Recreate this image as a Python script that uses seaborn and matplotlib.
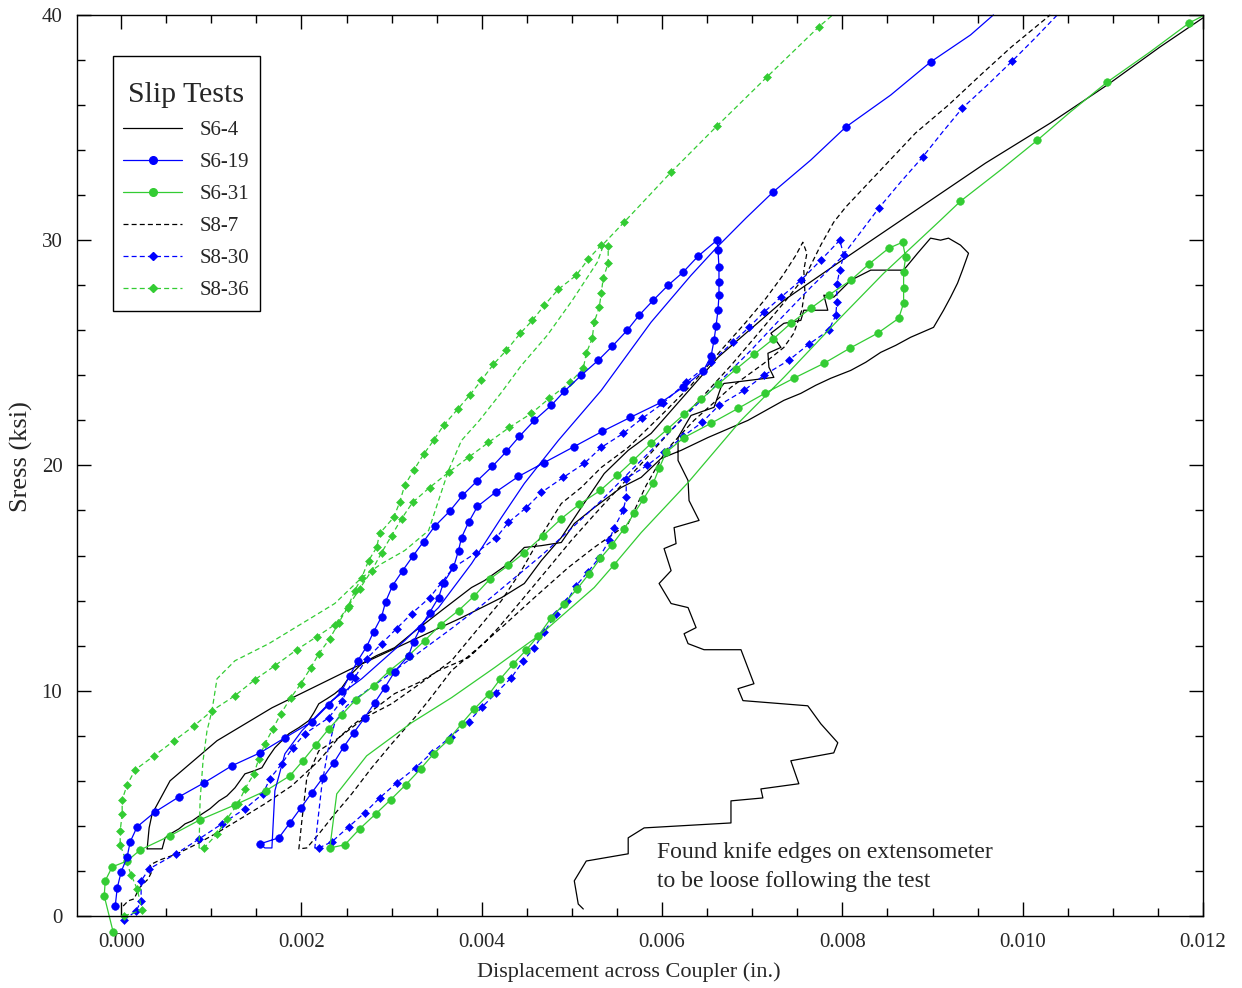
import numpy as np
import matplotlib
matplotlib.use("Agg")
import matplotlib.pyplot as plt
from matplotlib.lines import Line2D
from matplotlib.ticker import MultipleLocator, FormatStrFormatter
import seaborn as sns

# Slip tests: stress (ksi) vs displacement across coupler.
# Displacements below are in thousandths of an inch.

# S6-4: first loading, then the drift after the knife edges came loose
s6_4_first_x = [0.288, 0.454, 0.487, 0.565, 0.642, 0.709, 0.786, 0.897, 0.985, 1.085,
                1.173, 1.262, 1.317, 1.373, 1.472, 1.561, 1.627, 1.705, 1.782, 1.860,
                1.971, 2.081, 2.137, 2.192, 2.281, 2.369, 2.447, 2.557, 2.668, 2.834,
                3.033, 3.221, 3.410, 3.554, 3.697, 3.886, 4.030, 4.140, 4.295, 4.384,
                4.472, 4.661, 4.882, 5.026, 5.247, 5.546, 5.768, 5.989, 6.211, 6.509,
                6.952, 7.351, 7.539, 7.705, 7.871, 8.093, 8.259, 8.425, 8.591, 8.757,
                9.011, 9.122, 9.200, 9.277, 9.332, 9.399, 9.310, 9.177, 9.089, 8.978,
                8.834, 8.679, 8.314, 8.093, 7.982, 7.904, 7.794, 7.838, 7.572, 7.539,
                7.351, 7.207, 7.318, 7.174, 7.185, 7.240, 6.686, 6.653, 6.576, 6.321,
                6.288, 6.177, 6.177, 6.288, 6.299, 6.410, 6.133, 6.155, 6.022, 6.100,
                5.967, 6.100, 6.288, 6.377, 6.244, 6.288, 6.465, 6.875, 7.019, 6.842,
                6.897, 7.616, 7.761, 7.949, 7.904, 7.428, 7.517, 7.096, 7.118, 6.764,
                6.764, 5.801, 5.624, 5.624, 5.159, 5.026, 5.070, 5.126]
s6_4_first_y = [2.98, 2.98, 3.47, 3.69, 3.87, 4.09, 4.22, 4.53, 4.76, 5.11,
                5.33, 5.69, 6.0, 6.31, 6.44, 6.58, 7.02, 7.47, 7.78, 8.09,
                8.36, 8.67, 9.02, 9.42, 9.64, 9.87, 10.13, 10.76, 11.2, 11.56,
                11.91, 12.53, 13.11, 13.56, 14.0, 14.58, 14.89, 15.2, 15.64, 16.0,
                16.36, 16.44, 16.58, 17.42, 18.13, 19.02, 19.47, 20.31, 20.67, 21.24,
                22.0, 22.89, 23.2, 23.56, 23.87, 24.22, 24.58, 25.02, 25.33, 25.69,
                26.13, 26.89, 27.47, 28.09, 28.67, 29.42, 29.78, 30.09, 30.0, 30.09,
                29.42, 28.67, 28.67, 28.22, 27.78, 27.47, 27.56, 26.89, 26.89, 26.44,
                26.31, 25.87, 25.24, 24.98, 24.36, 23.91, 23.64, 23.47, 22.58, 22.22,
                22.0, 21.24, 20.22, 19.33, 18.44, 17.56, 17.24, 16.53, 16.31, 15.33,
                14.76, 13.87, 13.69, 12.8, 12.53, 12.09, 11.82, 11.82, 10.31, 10.09,
                9.56, 9.33, 8.53, 7.69, 7.24, 6.89, 5.87, 5.64, 5.24, 5.11,
                4.13, 3.91, 3.47, 2.76, 2.44, 1.56, 0.53, 0.31]
s6_4_reload_x = [0.288, 0.310, 0.343, 0.542, 1.063, 1.672, 2.557, 3.221, 3.775, 4.218,
                 4.472, 4.661, 4.882, 5.103, 5.358, 5.624, 5.878, 6.620, 7.351, 7.949,
                 8.768, 9.587, 10.307, 10.938, 11.524, 12.0]
s6_4_reload_y = [2.98, 3.91, 4.53, 6.0, 7.78, 9.24, 10.98, 12.22, 13.24, 14.13,
                 14.76, 15.78, 16.8, 18.13, 19.64, 20.67, 21.42, 24.8, 27.33, 28.98,
                 31.2, 33.42, 35.2, 36.89, 38.58, 39.87]

# S6-19
s6_19_load_x = [-0.066, -0.044, 0.000, 0.066, 0.100, 0.177, 0.376, 0.642, 0.919, 1.229,
                1.539, 1.816, 2.114, 2.303, 2.447, 2.535, 2.624, 2.723, 2.801, 2.889,
                2.934, 3.011, 3.122, 3.233, 3.354, 3.476, 3.642, 3.786, 3.952, 4.118,
                4.273, 4.417, 4.583, 4.771, 4.915, 5.103, 5.292, 5.447, 5.613, 5.746,
                5.901, 6.067, 6.233, 6.399, 6.609]
s6_19_load_y = [0.44, 1.24, 1.96, 2.62, 3.29, 3.96, 4.62, 5.29, 5.91, 6.67,
                7.24, 7.91, 8.62, 9.38, 10.0, 10.67, 11.33, 11.96, 12.62, 13.29,
                13.96, 14.67, 15.33, 15.96, 16.62, 17.29, 17.96, 18.67, 19.33, 19.96,
                20.62, 21.29, 22.0, 22.67, 23.29, 24.0, 24.67, 25.29, 26.0, 26.67,
                27.33, 28.0, 28.58, 29.29, 30.0]
s6_19_unload_x = [6.620, 6.631, 6.631, 6.631, 6.620, 6.598, 6.576, 6.543, 6.454, 6.233,
                  5.989, 5.646, 5.336, 5.026, 4.694, 4.406, 4.162, 3.952, 3.853, 3.775,
                  3.742, 3.686, 3.576, 3.520, 3.421, 3.321, 3.244, 3.188, 3.033, 2.923,
                  2.812, 2.701, 2.579, 2.469, 2.358, 2.236, 2.114, 1.993, 1.871, 1.749,
                  1.539]
s6_19_unload_y = [29.56, 28.8, 28.13, 27.56, 26.89, 26.18, 25.56, 24.84, 24.18, 23.47,
                  22.8, 22.13, 21.51, 20.84, 20.13, 19.51, 18.84, 18.18, 17.47, 16.8,
                  16.22, 15.47, 14.8, 14.13, 13.47, 12.8, 12.18, 11.56, 10.84, 10.13,
                  9.47, 8.8, 8.13, 7.51, 6.8, 6.13, 5.47, 4.8, 4.13, 3.47,
                  3.2]
s6_19_reload_x = [1.594, 1.672, 1.705, 1.816, 2.004, 2.336, 2.668, 3.144, 3.520, 3.886,
                  4.218, 4.472, 4.849, 5.325, 5.878, 6.321, 6.609, 6.930, 7.229, 7.650,
                  8.037, 8.535, 8.978, 9.421, 9.675]
s6_19_reload_y = [3.02, 3.02, 5.56, 7.2, 8.22, 9.56, 10.53, 12.22, 13.69, 15.64,
                  17.69, 19.2, 21.11, 23.33, 26.36, 28.44, 29.69, 30.98, 32.13, 33.56,
                  35.02, 36.44, 37.91, 39.11, 40.0]
s6_19_reload_marks = [18, 20, 22]

# S6-31
s6_31_load_x = [-0.089, -0.188, -0.177, -0.100, 0.066, 0.210, 0.542, 0.875, 1.262, 1.605,
                1.871, 2.015, 2.159, 2.303, 2.447, 2.602, 2.801, 2.978, 3.188, 3.365,
                3.543, 3.742, 3.919, 4.096, 4.295, 4.472, 4.683, 4.882, 5.081, 5.314,
                5.502, 5.679, 5.878, 6.056, 6.244, 6.432, 6.620, 6.819, 7.019, 7.229,
                7.428, 7.650, 7.849, 8.093, 8.292, 8.513, 8.668]
s6_31_load_y = [-0.71, 0.89, 1.56, 2.18, 2.44, 2.93, 3.56, 4.27, 4.93, 5.56,
                6.22, 6.89, 7.6, 8.31, 8.93, 9.6, 10.22, 10.89, 11.56, 12.22,
                12.93, 13.56, 14.22, 14.98, 15.56, 16.13, 16.89, 17.64, 18.27, 18.89,
                19.56, 20.22, 20.98, 21.6, 22.27, 22.93, 23.6, 24.27, 24.93, 25.6,
                26.31, 26.98, 27.56, 28.22, 28.93, 29.64, 29.91]
s6_31_unload_x = [8.701, 8.679, 8.679, 8.679, 8.624, 8.391, 8.081, 7.794, 7.461, 7.140,
                  6.842, 6.543, 6.244, 6.044, 5.967, 5.901, 5.790, 5.690, 5.580, 5.447,
                  5.314, 5.192, 5.059, 4.915, 4.771, 4.627, 4.495, 4.351, 4.207, 4.085,
                  3.919, 3.775, 3.631, 3.465, 3.321, 3.155, 2.989, 2.823, 2.646, 2.480,
                  2.314]
s6_31_unload_y = [29.24, 28.58, 27.87, 27.2, 26.53, 25.87, 25.2, 24.53, 23.87, 23.2,
                  22.53, 21.87, 21.24, 20.58, 19.87, 19.2, 18.49, 17.87, 17.2, 16.49,
                  15.87, 15.2, 14.53, 13.87, 13.24, 12.44, 11.82, 11.2, 10.53, 9.87,
                  9.2, 8.53, 7.82, 7.2, 6.53, 5.82, 5.16, 4.53, 3.87, 3.16,
                  3.02]
s6_31_reload_x = [2.391, 2.723, 3.222, 3.664, 4.140, 4.661, 5.247, 5.469, 5.768, 6.288,
                  6.875, 7.351, 7.949, 8.458, 9.089, 9.310, 9.753, 10.163, 10.528, 10.938,
                  11.414, 11.845, 12.0]
s6_31_reload_y = [5.42, 7.11, 8.58, 9.69, 11.02, 12.53, 14.58, 15.6, 17.02, 19.24,
                  22.0, 23.91, 26.44, 28.53, 30.89, 31.73, 33.11, 34.44, 35.69, 37.02,
                  38.36, 39.64, 39.96]
s6_31_reload_marks = [7, 15, 17, 19, 21]

# S8-7
s8_7_load_x = [0.022, 0.077, 0.144, 0.199, 0.299, 0.343, 0.321, 0.432, 0.620, 0.841,
               1.063, 1.284, 1.594, 1.893, 2.192, 2.413, 2.701, 3.0, 3.332, 3.664,
               3.941, 4.218, 4.439, 4.661, 4.882, 5.103, 5.325, 5.624, 5.989, 6.321,
               6.653, 6.930, 7.152, 7.340, 7.484, 7.561]
s8_7_load_y = [0.44, 0.67, 0.76, 1.24, 1.64, 2.0, 2.27, 2.49, 2.76, 3.2,
               3.69, 4.22, 4.98, 5.78, 6.89, 7.91, 8.8, 9.42, 10.36, 11.33,
               12.67, 14.0, 15.33, 16.89, 18.31, 19.02, 19.91, 20.8, 22.22, 23.56,
               25.11, 26.36, 27.42, 28.44, 29.33, 29.91]
s8_7_unload_x = [7.606, 7.572, 7.583, 7.550, 7.461, 7.351, 7.129, 6.764, 6.354, 6.044,
                 5.823, 5.624, 5.247, 4.960, 4.583, 4.218, 3.963, 3.664, 3.410, 3.255,
                 3.0, 2.779, 2.557, 2.369, 2.192, 2.059, 1.971]
s8_7_unload_y = [29.42, 28.67, 27.78, 26.89, 25.87, 25.24, 24.53, 23.47, 22.0, 20.67,
                 19.11, 17.42, 16.36, 15.47, 14.13, 12.8, 11.91, 10.89, 9.56, 8.8,
                 7.64, 6.58, 5.42, 4.53, 3.64, 3.02, 2.98]
s8_7_reload_x = [2.004, 2.059, 2.192, 2.413, 2.557, 2.812, 3.033, 3.299, 3.520, 3.853,
                 4.030, 4.185, 4.439, 4.716, 4.993, 5.270, 5.546, 5.823, 6.100, 6.432,
                 6.764, 7.096, 7.373, 7.594, 7.760, 7.904, 8.037, 8.402, 8.812, 9.177,
                 9.532, 9.875, 10.306]
s8_7_reload_y = [4.22, 6.13, 7.33, 7.91, 8.44, 9.2, 9.87, 10.36, 10.89, 11.47,
                 12.13, 12.8, 14.0, 15.33, 16.67, 17.91, 19.11, 20.31, 21.56, 22.98,
                 24.44, 26.0, 27.33, 28.44, 29.78, 30.8, 31.47, 33.02, 34.76, 36.0,
                 37.33, 38.58, 40.0]

# S8-30
s8_30_load_x = [0.033, 0.166, 0.221, 0.221, 0.310, 0.609, 0.864, 1.118, 1.373, 1.572,
                1.649, 1.782, 1.904, 2.037, 2.303, 2.447, 2.590, 2.723, 2.889, 3.055,
                3.221, 3.421, 3.554, 3.686, 3.941, 4.162, 4.295, 4.495, 4.661, 4.904,
                5.137, 5.325, 5.568, 5.779, 6.011, 6.266, 6.543, 6.786, 6.963, 7.129,
                7.318, 7.539, 7.760, 7.971]
s8_30_load_y = [-0.18, 0.22, 0.67, 1.56, 2.09, 2.76, 3.42, 4.09, 4.76, 5.42,
                6.09, 6.76, 7.47, 8.09, 8.8, 9.56, 10.58, 11.42, 12.09, 12.76,
                13.42, 14.13, 14.8, 15.47, 16.13, 16.8, 17.47, 18.13, 18.8, 19.47,
                20.09, 20.8, 21.42, 22.09, 22.76, 23.69, 24.58, 25.47, 26.13, 26.8,
                27.47, 28.22, 29.11, 30.0]
s8_30_unload_x = [8.015, 7.971, 7.938, 7.938, 7.927, 7.849, 7.627, 7.406, 7.129, 6.908,
                  6.631, 6.443, 6.233, 6.022, 5.834, 5.602, 5.602, 5.568, 5.469, 5.413,
                  5.303, 5.181, 5.048, 4.948, 4.827, 4.694, 4.583, 4.461, 4.328, 4.162,
                  4.007, 3.853, 3.653, 3.443, 3.266, 3.055, 2.867, 2.701, 2.524, 2.336,
                  2.192]
s8_30_unload_y = [29.33, 28.67, 28.04, 27.24, 26.67, 26.0, 25.38, 24.67, 24.0, 23.33,
                  22.67, 21.91, 21.29, 20.58, 20.0, 19.42, 18.58, 18.0, 17.24, 16.67,
                  15.91, 15.29, 14.67, 14.0, 13.42, 12.62, 11.91, 11.33, 10.58, 9.91,
                  9.29, 8.62, 7.96, 7.24, 6.58, 5.91, 5.24, 4.58, 3.96, 3.29,
                  3.02]
s8_30_reload_x = [2.148, 2.181, 2.225, 2.292, 2.369, 2.502, 2.723, 3.0, 3.332, 3.664,
                  3.996, 4.328, 4.661, 4.993, 5.325, 5.657, 5.989, 6.321, 6.653, 6.985,
                  7.318, 7.650, 7.982, 8.203, 8.403, 8.646, 8.890, 9.111, 9.332, 9.609,
                  9.886, 10.140, 10.384]
s8_30_reload_y = [3.02, 4.22, 5.78, 7.33, 8.58, 9.33, 10.0, 10.8, 11.78, 12.76,
                  13.78, 14.89, 16.0, 17.2, 18.44, 19.78, 21.11, 22.44, 23.78, 25.11,
                  26.53, 27.91, 29.2, 30.36, 31.42, 32.58, 33.69, 34.8, 35.87, 36.89,
                  37.96, 38.98, 40.0]
s8_30_reload_marks = [24, 26, 28, 30]

# S8-36
s8_36_load_x = [0.033, 0.232, 0.177, 0.111, -0.011, -0.011, 0.011, 0.011, 0.066, 0.155,
                0.365, 0.587, 0.808, 1.007, 1.262, 1.483, 1.705, 1.948, 2.170, 2.369,
                2.513, 2.590, 2.668, 2.745, 2.834, 2.867, 3.022, 3.089, 3.144, 3.244,
                3.354, 3.465, 3.576, 3.731, 3.864, 3.996, 4.129, 4.273, 4.428, 4.561,
                4.694, 4.849, 5.048, 5.181, 5.325]
s8_36_load_y = [0.0, 0.27, 1.2, 1.82, 3.16, 3.78, 4.53, 5.16, 5.82, 6.49,
                7.11, 7.78, 8.44, 9.11, 9.78, 10.49, 11.11, 11.82, 12.4, 12.93,
                13.69, 14.44, 15.02, 15.78, 16.36, 16.98, 17.69, 18.36, 19.11, 19.78,
                20.49, 21.11, 21.78, 22.49, 23.11, 23.78, 24.49, 25.11, 25.87, 26.44,
                27.11, 27.82, 28.44, 29.16, 29.78]
s8_36_unload_x = [5.402, 5.402, 5.347, 5.325, 5.303, 5.247, 5.225, 5.159, 5.126, 4.982,
                  4.749, 4.550, 4.306, 4.074, 3.853, 3.631, 3.421, 3.233, 3.111, 3.000,
                  2.889, 2.779, 2.646, 2.524, 2.413, 2.314, 2.192, 2.103, 1.993, 1.882,
                  1.771, 1.683, 1.594, 1.527, 1.472, 1.373, 1.295, 1.173, 1.063, 0.919]
s8_36_unload_y = [29.73, 28.98, 28.31, 27.64, 27.02, 26.36, 25.64, 24.98, 24.31, 23.69,
                  22.98, 22.31, 21.69, 21.02, 20.36, 19.69, 19.02, 18.36, 17.64, 16.89,
                  16.13, 15.33, 14.53, 13.78, 13.02, 12.31, 11.64, 11.02, 10.31, 9.69,
                  8.98, 8.31, 7.64, 6.98, 6.31, 5.64, 4.98, 4.31, 3.64, 3.02]
s8_36_reload_x = [0.864, 0.875, 0.908, 0.952, 1.007, 1.063, 1.262, 1.638, 2.004, 2.369,
                  2.668, 2.889, 3.144, 3.410, 3.520, 3.631, 3.775, 3.974, 4.218, 4.439,
                  4.727, 5.004, 5.281, 5.358, 5.579, 6.100, 6.609, 7.162, 7.738, 7.893]
s8_36_reload_y = [3.02, 5.11, 6.89, 8.22, 9.11, 10.53, 11.33, 12.09, 12.98, 13.87,
                  15.02, 15.64, 16.22, 17.11, 18.44, 19.78, 21.11, 22.0, 23.24, 24.44,
                  25.78, 27.33, 29.02, 29.87, 30.8, 33.02, 35.07, 37.24, 39.47, 40.0]
s8_36_reload_marks = [24, 25, 26, 27, 28]

note_text = "Found knife edges on extensometer\nto be loose following the test"

BLUE = "#0000ff"
GREEN = "#33cc33"
DASH = (0, (4, 2.5))

sns.set_style("ticks")
plt.rcParams["font.family"] = ["Liberation Serif", "DejaVu Serif"]
plt.rcParams["axes.edgecolor"] = "black"
plt.rcParams["axes.linewidth"] = 1.0

fig = plt.figure(figsize=(12.42, 9.88), dpi=100)
ax = fig.add_axes([0.062, 0.0729, 0.9066, 0.912])


def draw(xs, ys, color, ls, marker=None, ms=0, every=None):
    sns.lineplot(x=np.asarray(xs) / 1000.0, y=ys, ax=ax, sort=False, estimator=None,
                 color=color, linestyle=ls, lw=0.9, marker=marker, markersize=ms,
                 markevery=every, markeredgecolor=color, markeredgewidth=0.4,
                 clip_on=False, legend=False)


def loop(load_x, load_y, unload_x, unload_y, reload_x, reload_y, marks,
         color, ls, marker, ms):
    xs = list(load_x) + list(unload_x) + list(reload_x)
    ys = list(load_y) + list(unload_y) + list(reload_y)
    n = len(load_x) + len(unload_x)
    every = list(range(n)) + [n + m for m in marks]
    draw(xs, ys, color, ls, marker, ms, every)


# S6-4
draw(s6_4_first_x, s6_4_first_y, "black", "-")
draw(s6_4_reload_x, s6_4_reload_y, "black", "-")
# S8-7
draw(s8_7_load_x + s8_7_unload_x + s8_7_reload_x,
     s8_7_load_y + s8_7_unload_y + s8_7_reload_y, "black", DASH)
# loops with markers
loop(s8_30_load_x, s8_30_load_y, s8_30_unload_x, s8_30_unload_y,
     s8_30_reload_x, s8_30_reload_y, s8_30_reload_marks, BLUE, DASH, "D", 4)
loop(s8_36_load_x, s8_36_load_y, s8_36_unload_x, s8_36_unload_y,
     s8_36_reload_x, s8_36_reload_y, s8_36_reload_marks, GREEN, DASH, "D", 4)
loop(s6_31_load_x, s6_31_load_y, s6_31_unload_x, s6_31_unload_y,
     s6_31_reload_x, s6_31_reload_y, s6_31_reload_marks, GREEN, "-", "o", 5.5)
loop(s6_19_load_x, s6_19_load_y, s6_19_unload_x, s6_19_unload_y,
     s6_19_reload_x, s6_19_reload_y, s6_19_reload_marks, BLUE, "-", "o", 5.5)

# axes
ax.set_xlim(-0.00049, 0.012)
ax.set_ylim(0, 40)
ax.xaxis.set_major_locator(MultipleLocator(0.002))
ax.xaxis.set_minor_locator(MultipleLocator(0.0005))
ax.yaxis.set_major_locator(MultipleLocator(10))
ax.yaxis.set_minor_locator(MultipleLocator(2))
ax.xaxis.set_major_formatter(FormatStrFormatter("%.3f"))
ax.yaxis.set_major_formatter(FormatStrFormatter("%d"))
ax.tick_params(which="both", direction="in", top=True, right=True,
               color="black", width=1)
ax.tick_params(which="major", length=10, labelsize=15)
ax.tick_params(which="minor", length=5.8)
ax.tick_params(axis="y", which="major", pad=10.5)
ax.tick_params(axis="x", which="major", pad=12)
for s in ax.spines.values():
    s.set_visible(True)
    s.set_color("black")

ax.set_xlabel("Displacement across Coupler (in.)", fontsize=16)
ax.set_ylabel("Sress (ksi)", fontsize=19)
ax.xaxis.set_label_coords(0.490, -0.051)
ax.yaxis.set_label_coords(-0.039, 0.51)

ax.text(0.00594, 2.17, note_text, fontsize=17, va="center", ha="left",
        linespacing=1.45)

# legend
handles = [
    Line2D([], [], color="black", ls="-", lw=0.9),
    Line2D([], [], color=BLUE, ls="-", lw=0.9, marker="o", ms=5.5, mec=BLUE),
    Line2D([], [], color=GREEN, ls="-", lw=0.9, marker="o", ms=5.5, mec=GREEN),
    Line2D([], [], color="black", ls=DASH, lw=0.9),
    Line2D([], [], color=BLUE, ls=DASH, lw=0.9, marker="D", ms=4, mec=BLUE),
    Line2D([], [], color=GREEN, ls=DASH, lw=0.9, marker="D", ms=4, mec=GREEN),
]
labels = ["S6-4", "S6-19", "S6-31", "S8-7", "S8-30", "S8-36"]
leg = ax.legend(handles, labels, title="\nSlip Tests", loc="upper left",
                bbox_to_anchor=(0.032, 0.9545), borderaxespad=0, fontsize=15,
                title_fontsize=21.5, frameon=True, fancybox=False,
                edgecolor="black", framealpha=1, handlelength=2.8,
                handletextpad=0.85, labelspacing=0.6, borderpad=0.5,
                numpoints=1)
leg.get_title().set_linespacing(0.47)
leg.get_frame().set_linewidth(1.0)

fig.savefig("out.png", dpi=100)
